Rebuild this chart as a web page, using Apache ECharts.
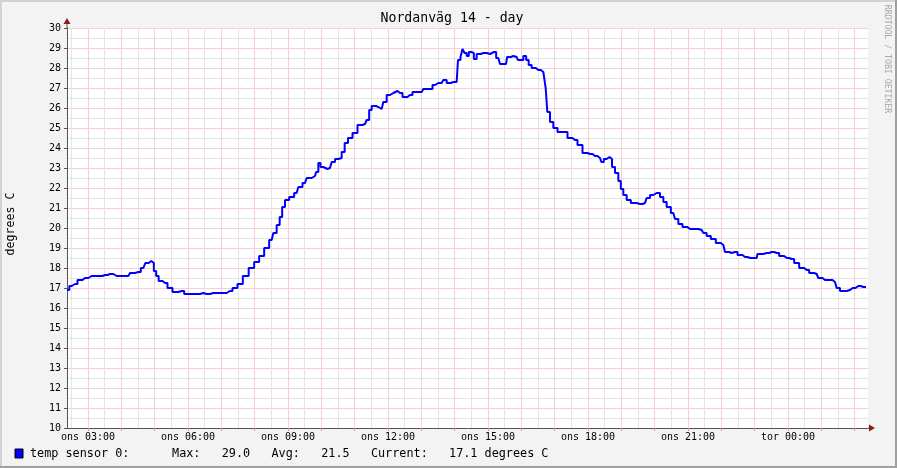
<!DOCTYPE html>
<html><head><meta charset="utf-8">
<script src="https://cdn.jsdelivr.net/npm/echarts@6/dist/echarts.min.js"></script>
<style>html,body{margin:0;padding:0;background:#f3f3f3}#c{width:897px;height:468px}</style>
</head><body><div id="c"></div>
<script>
// time in hours since Wednesday ("ons") 00:00
const timeHours = [2.37,2.51,2.61,2.76,2.91,3.11,3.36,3.51,3.66,3.86,4.21,4.31,4.51,4.66,4.78,4.86,4.94,5.01,5.08,5.16,5.31,5.46,5.61,5.81,5.96,6.26,6.46,6.56,6.76,7.06,7.26,7.41,7.56,7.73,7.91,8.06,8.21,8.36,8.51,8.61,8.71,8.79,8.86,8.96,9.11,9.26,9.36,9.51,9.61,9.81,9.88,9.94,10.01,10.11,10.26,10.36,10.46,10.56,10.66,10.74,10.86,11.01,11.16,11.31,11.41,11.46,11.56,11.71,11.81,11.91,12.01,12.11,12.21,12.36,12.51,12.66,12.81,13.01,13.11,13.26,13.41,13.51,13.61,13.71,13.81,13.96,14.06,14.14,14.21,14.26,14.33,14.39,14.46,14.54,14.61,14.71,14.86,15.06,15.18,15.31,15.41,15.54,15.61,15.76,15.86,15.93,16.01,16.11,16.18,16.26,16.36,16.51,16.66,16.71,16.75,16.81,16.91,17.01,17.16,17.31,17.46,17.61,17.76,17.91,18.06,18.21,18.36,18.44,18.51,18.61,18.68,18.76,18.86,18.96,19.01,19.11,19.21,19.36,19.56,19.71,19.81,19.91,20.01,20.11,20.21,20.31,20.41,20.56,20.66,20.76,20.91,21.06,21.21,21.41,21.51,21.61,21.76,21.91,22.06,22.16,22.31,22.41,22.56,22.71,22.86,23.06,23.11,23.26,23.36,23.51,23.66,23.81,23.96,24.11,24.26,24.41,24.56,24.71,24.86,24.96,25.11,25.26,25.41,25.51,25.61,25.76,25.86,25.94,26.11,26.26,26.34];
const tempValues = [16.9,17.1,17.2,17.4,17.5,17.6,17.6,17.65,17.7,17.6,17.6,17.75,17.8,18.0,18.25,18.35,18.25,17.85,17.6,17.35,17.25,17.0,16.8,16.85,16.7,16.7,16.75,16.7,16.75,16.75,16.85,17.0,17.2,17.6,18.0,18.3,18.6,19.0,19.4,19.75,20.15,20.55,21.05,21.4,21.55,21.75,22.05,22.25,22.5,22.6,22.8,23.25,23.05,22.95,23.0,23.3,23.45,23.5,23.8,24.25,24.5,24.75,25.15,25.2,25.4,25.9,26.1,26.05,25.95,26.3,26.65,26.75,26.85,26.75,26.55,26.65,26.8,26.8,26.95,26.95,27.15,27.25,27.25,27.4,27.25,27.3,27.3,28.4,28.55,28.95,28.75,28.6,28.8,28.75,28.45,28.7,28.75,28.7,28.8,28.5,28.2,28.2,28.55,28.6,28.55,28.4,28.4,28.6,28.4,28.15,28.0,27.9,27.8,27.8,27.0,25.8,25.3,25.0,24.8,24.8,24.5,24.4,24.15,23.75,23.7,23.6,23.5,23.3,23.45,23.55,23.45,23.05,22.75,22.35,21.95,21.65,21.4,21.25,21.2,21.25,21.5,21.65,21.75,21.75,21.55,21.3,21.05,20.75,20.45,20.2,20.05,19.95,19.95,19.9,19.75,19.6,19.45,19.25,19.15,18.8,18.75,18.8,18.65,18.55,18.5,18.5,18.7,18.7,18.75,18.8,18.75,18.6,18.5,18.45,18.25,18.0,17.9,17.75,17.7,17.5,17.4,17.4,17.3,17.0,16.85,16.85,16.9,17.0,17.1,17.05,17.05];
const hourTicks = [3,4,5,6,7,8,9,10,11,12,13,14,15,16,17,18,19,20,21,22,23,24,25,26];
const halfHourTicks = [2.5,3.5,4.5,5.5,6.5,7.5,8.5,9.5,10.5,11.5,12.5,13.5,14.5,15.5,16.5,17.5,18.5,19.5,20.5,21.5,22.5,23.5,24.5,25.5];
const labelHours = [3,6,9,12,15,18,21,24];
const dayNames = ['ons','tor'];
const titleText = 'Nordanväg 14 - day';
const yAxisTitle = 'degrees C';
const seriesName = 'temp sensor 0:';
const statMax = 29.0, statAvg = 21.5, statCurrent = 17.1;
const unitText = 'degrees C';

const mono = 'DejaVu Sans Mono';
// dotted grid rendered as light solid lines (same visual density)
const majorColor = '#f8cfcf';
const minorColor = '#e4e4e4';
const pad = h => String(h).padStart(2,'0');
const points = timeHours.map((t,i)=>[t,tempValues[i]]);

const chart = echarts.init(document.getElementById('c'), null, {renderer:'canvas'});
const legendLine = seriesName + '      Max:   ' + statMax.toFixed(1) + '   Avg:   ' + statAvg.toFixed(1) +
  '   Current:   ' + statCurrent.toFixed(1) + ' ' + unitText;

function gridSeries(values, color, z) {
  return {type:'line', data:[], z:z, silent:true,
    markLine:{silent:true, symbol:'none', animation:false, label:{show:false},
      emphasis:{disabled:true},
      lineStyle:{color:color, type:'solid', width:1, opacity:1},
      data: values.map(v=>({xAxis:v}))}};
}

chart.setOption({
  animation:false,
  backgroundColor:'#f3f3f3',
  grid:{left:67,right:29,top:28,bottom:40,show:true,backgroundColor:'#ffffff',borderWidth:0},
  xAxis:{type:'value',min:2.37,max:26.4,position:'bottom',z:3,
     axisLine:{show:true,onZero:false,lineStyle:{color:'#555555',width:1}},
     axisTick:{show:true,customValues:hourTicks,length:3,inside:false,lineStyle:{color:'#e89a9a'}},
     axisLabel:{customValues:labelHours,color:'#000',fontFamily:mono,fontSize:10,margin:4,
       formatter:v=>dayNames[Math.floor(v/24)]+' '+pad(Math.round(v)%24)+':00'},
     splitLine:{show:false}},
  yAxis:{type:'value',min:10,max:30,interval:1,z:3,
    axisLine:{show:true,onZero:false,lineStyle:{color:'#555555',width:1}},
    axisTick:{show:true,length:3,lineStyle:{color:'#555555'}},
    minorTick:{show:false,splitNumber:2},
    axisLabel:{color:'#000',fontFamily:mono,fontSize:10,margin:6},
    splitLine:{show:true,lineStyle:{color:majorColor,type:'solid',width:1}},
    minorSplitLine:{show:true,lineStyle:{color:minorColor,type:'solid',width:1}}},
  series:[
    gridSeries(halfHourTicks, minorColor, 1),
    gridSeries(hourTicks, majorColor, 2),
    {type:'line',data:points,showSymbol:false,z:5,step:'middle',
     lineStyle:{color:'#0000ff',width:2},itemStyle:{color:'#0000ff'}}
  ],
  graphic:[
    {type:'rect',shape:{x:0,y:0,width:897,height:2},style:{fill:'#d2d2d2'},silent:true},
    {type:'rect',shape:{x:0,y:0,width:2,height:468},style:{fill:'#d2d2d2'},silent:true},
    {type:'rect',shape:{x:895,y:0,width:2,height:468},style:{fill:'#a0a0a0'},silent:true},
    {type:'rect',shape:{x:0,y:466,width:897,height:2},style:{fill:'#a0a0a0'},silent:true},
    {type:'polyline',shape:{points:[[67,28],[67,21]]},style:{stroke:'#555555',lineWidth:1},silent:true},
    {type:'polygon',shape:{points:[[63.5,24],[70.5,24],[67,18]]},style:{fill:'#8b1a1a'},silent:true},
    {type:'polyline',shape:{points:[[868,428],[870,428]]},style:{stroke:'#555555',lineWidth:1},silent:true},
    {type:'polygon',shape:{points:[[869,424.5],[869,431.5],[875,428]]},style:{fill:'#8b1a1a'},silent:true},
    {type:'text',x:452,y:19,style:{text:titleText,font:'13.2px "DejaVu Sans Mono"',fill:'#000',textAlign:'center',textVerticalAlign:'middle'},silent:true},
    {type:'text',x:11,y:224,rotation:Math.PI/2,style:{text:yAxisTitle,font:'11.6px "DejaVu Sans Mono"',fill:'#000',textAlign:'center',textVerticalAlign:'middle'},silent:true},
    {type:'text',x:887,y:59,rotation:-Math.PI/2,style:{text:'RRDTOOL / TOBI OETIKER',font:'8.2px "DejaVu Sans Mono"',fill:'#a8a8a8',textAlign:'center',textVerticalAlign:'middle'},silent:true},
    {type:'rect',shape:{x:15,y:449,width:8,height:9},style:{fill:'#0000ff',stroke:'#000',lineWidth:1},silent:true},
    {type:'text',x:30,y:454,style:{text:legendLine,font:'11.8px "DejaVu Sans Mono"',fill:'#000',textAlign:'left',textVerticalAlign:'middle'},silent:true}
  ]
});
</script></body></html>
